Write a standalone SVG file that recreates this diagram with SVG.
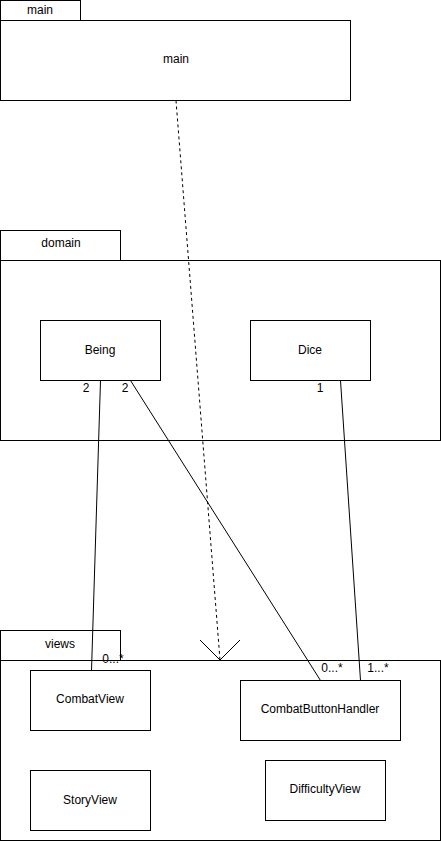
<svg xmlns="http://www.w3.org/2000/svg" width="441" height="841" viewBox="0 0 441 841">
<style>
rect{fill:#fff;stroke:#000;stroke-width:1}
text{font-family:"Liberation Sans",Arial,sans-serif;font-size:12px;fill:#000;text-anchor:middle;dominant-baseline:central}
.l{fill:none;stroke:#000;stroke-width:1}
</style>
<rect x="0" y="0" width="441" height="841" style="stroke:none"/>
<g id="pkg-main">
<rect x="0.5" y="0.5" width="80" height="20"/>
<rect x="0.5" y="20.5" width="350" height="80"/>
<text x="40" y="10">main</text>
<text x="176" y="59">main</text>
</g>
<g id="pkg-domain">
<rect x="0.5" y="230.5" width="120" height="30"/>
<rect x="0.5" y="260.5" width="440" height="180"/>
<text x="61" y="243">domain</text>
</g>
<g id="Being"><rect x="40.5" y="320.5" width="120" height="60"/><text x="100" y="350">Being</text></g>
<g id="Dice"><rect x="250.5" y="320.5" width="120" height="60"/><text x="310" y="350">Dice</text></g>
<g id="pkg-views">
<rect x="0.5" y="630.5" width="120" height="30"/>
<rect x="0.5" y="660.5" width="440" height="180"/>
<text x="60" y="644">views</text>
</g>
<g id="CombatView"><rect x="30.5" y="670.5" width="120" height="60"/><text x="90" y="699">CombatView</text></g>
<g id="StoryView"><rect x="30.5" y="770.5" width="120" height="60"/><text x="90" y="800">StoryView</text></g>
<g id="CombatButtonHandler"><rect x="240.5" y="680.5" width="160" height="60"/><text x="320" y="709">CombatButtonHandler</text></g>
<g id="DifficultyView"><rect x="265.5" y="760.5" width="120" height="60"/><text x="325" y="789">DifficultyView</text></g>
<g id="connectors">
<path class="l" d="M176 100.5 L220 660" stroke-dasharray="3,3"/>
<path class="l" d="M200 640 L220 660 L240 640"/>
<path class="l" d="M100.5 380.5 L91.5 670.5"/>
<path class="l" d="M130.5 380.5 L320.5 680.5"/>
<path class="l" d="M340.5 380.5 L360.5 680.5"/>
<text x="86" y="388">2</text>
<text x="125" y="388">2</text>
<text x="113" y="659">0...*</text>
<text x="320" y="388">1</text>
<text x="332" y="668">0...*</text>
<text x="378" y="668">1...*</text>
</g>
</svg>
